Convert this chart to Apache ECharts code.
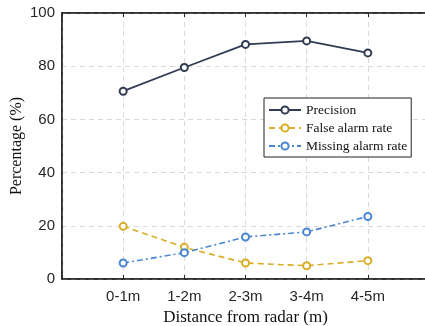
<!DOCTYPE html>
<html>
<head>
<meta charset="utf-8">
<script src="https://cdn.jsdelivr.net/npm/echarts@6/dist/echarts.min.js"></script>
<style>
  html, body { margin: 0; padding: 0; background: #fff; }
  #main { width: 425px; height: 326px; }
</style>
</head>
<body>
<div id="main"></div>
<script>
  // distance bins on the x axis
  var categories = ['0-1m', '1-2m', '2-3m', '3-4m', '4-5m'];
  var precision = [70.6, 79.5, 88.2, 89.5, 85.0];
  var falseAlarm = [19.8, 11.9, 6.0, 5.0, 6.9];
  var missingAlarm = [6.0, 9.9, 15.8, 17.7, 23.5];
  var yTicks = [0, 20, 40, 60, 80, 100];

  function pts(arr) {
    return arr.map(function (v, i) { return [i + 1, v]; });
  }

  var serif = '"Liberation Serif", "DejaVu Serif", serif';
  var sans = '"Liberation Sans", Arial, sans-serif';
  var gridDash = { color: '#d9d9d9', type: [5, 4], width: 1 };

  var chart = echarts.init(document.getElementById('main'));
  chart.setOption({
    animation: false,
    grid: {
      left: 62, right: -4, top: 13, bottom: 47,
      outerBoundsMode: 'none',
      containLabel: false,
      show: true, borderColor: '#262626', borderWidth: 1.5
    },
    legend: {
      left: 264, top: 98,
      orient: 'vertical',
      backgroundColor: '#fff',
      borderColor: '#222', borderWidth: 1,
      padding: [5, 4, 4, 4],
      itemGap: 4,
      itemWidth: 32, itemHeight: 9,
      textStyle: { fontFamily: serif, fontSize: 13.5, color: '#111' },
      data: ['Precision', 'False alarm rate', 'Missing alarm rate']
    },
    xAxis: [{
      type: 'value', min: 0, max: 6, interval: 1,
      axisLine: { show: true, lineStyle: { color: '#262626', width: 1.5 } },
      axisTick: { show: true, inside: true, length: 4, lineStyle: { color: '#262626' } },
      axisLabel: {
        fontFamily: sans, fontSize: 15, color: '#262626', margin: 10,
        formatter: function (v) { return categories[v - 1] || ''; }
      },
      splitLine: { show: true, lineStyle: gridDash },
      name: 'Distance from radar (m)',
      nameLocation: 'middle', nameGap: 30,
      nameTextStyle: { fontFamily: serif, fontSize: 17, color: '#111' }
    }, {
      type: 'value', min: 0, max: 6, interval: 1, position: 'top',
      axisLine: { show: true, lineStyle: { color: '#262626', width: 1.5 } },
      axisTick: { show: true, inside: true, length: 4, lineStyle: { color: '#262626' } },
      axisLabel: { show: false },
      splitLine: { show: false }
    }],
    yAxis: {
      type: 'value', min: 0, max: 100, interval: 20,
      axisLine: { show: true, lineStyle: { color: '#262626', width: 1.5 } },
      axisTick: { show: false },
      axisLabel: {
        fontFamily: sans, fontSize: 15, color: '#262626', margin: 7,
        formatter: function (v) { return yTicks.indexOf(v) >= 0 ? String(v) : ''; }
      },
      splitLine: { show: true, lineStyle: gridDash },
      name: 'Percentage (%)',
      nameLocation: 'middle', nameGap: 37,
      nameMoveOverlap: false,
      nameTextStyle: { fontFamily: serif, fontSize: 16, color: '#111' }
    },
    series: [{
      name: 'Precision', type: 'line',
      data: pts(precision),
      symbol: 'emptyCircle', symbolSize: 7,
      itemStyle: { color: '#2f3c52', borderWidth: 1.8 },
      lineStyle: { color: '#2f3c52', width: 1.8, type: 'solid' }
    }, {
      name: 'False alarm rate', type: 'line',
      data: pts(falseAlarm),
      symbol: 'emptyCircle', symbolSize: 7,
      itemStyle: { color: '#d9ad28', borderWidth: 1.8 },
      lineStyle: { color: '#d9ad28', width: 1.6, type: [6, 4] }
    }, {
      name: 'Missing alarm rate', type: 'line',
      data: pts(missingAlarm),
      symbol: 'emptyCircle', symbolSize: 7,
      itemStyle: { color: '#4a86d2', borderWidth: 1.8 },
      lineStyle: { color: '#4a86d2', width: 1.6, type: [6, 3, 2, 3] }
    }]
  });
</script>
</body>
</html>
